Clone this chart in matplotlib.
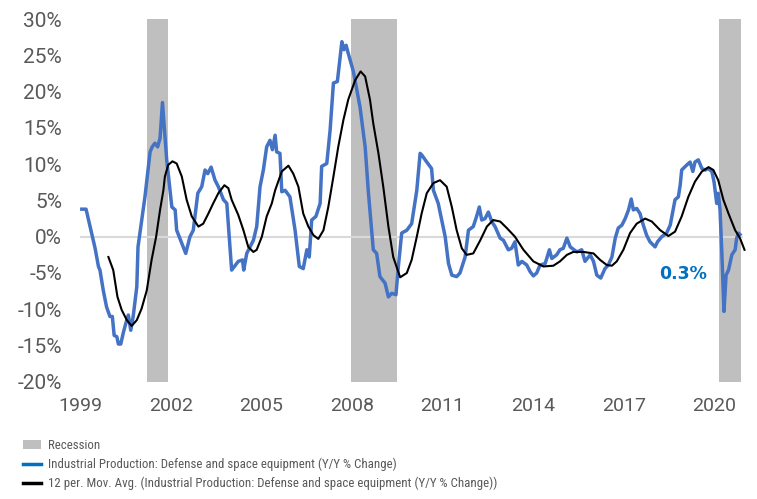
import matplotlib
matplotlib.use('Agg')
import matplotlib.pyplot as plt
from matplotlib.patches import Patch
from matplotlib.lines import Line2D

plt.rcParams['font.family'] = ['Roboto', 'DejaVu Sans']
plt.rcParams['axes.unicode_minus'] = False

# Industrial Production: Defense and space equipment, Y/Y % change
ip_years = [1999.06, 1999.20, 1999.50, 1999.61, 1999.66, 1999.77, 1999.88, 1999.99, 2000.07,
            2000.13, 2000.22, 2000.27, 2000.35, 2000.43, 2000.52, 2000.60, 2000.68, 2000.76,
            2000.88, 2000.92, 2001.15, 2001.32, 2001.39, 2001.48, 2001.57, 2001.65, 2001.73,
            2001.87, 2002.04, 2002.15, 2002.20, 2002.37, 2002.50, 2002.64, 2002.75, 2002.90,
            2003.03, 2003.14, 2003.23, 2003.34, 2003.47, 2003.58, 2003.75, 2003.86, 2004.02,
            2004.24, 2004.38, 2004.42, 2004.52, 2004.74, 2004.85, 2004.96, 2005.07, 2005.18,
            2005.29, 2005.37, 2005.46, 2005.51, 2005.62, 2005.68, 2005.79, 2005.95, 2006.12,
            2006.26, 2006.39, 2006.51, 2006.59, 2006.67, 2006.81, 2006.95, 2007.00, 2007.17,
            2007.28, 2007.39, 2007.52, 2007.67, 2007.74, 2007.81, 2007.88, 2008.05, 2008.27,
            2008.44, 2008.55, 2008.71, 2008.82, 2008.93, 2009.10, 2009.21, 2009.32, 2009.46,
            2009.54, 2009.65, 2009.82, 2009.98, 2010.15, 2010.26, 2010.31, 2010.48, 2010.64,
            2010.70, 2010.86, 2011.09, 2011.20, 2011.31, 2011.47, 2011.58, 2011.75, 2011.86,
            2012.02, 2012.13, 2012.22, 2012.30, 2012.41, 2012.52, 2012.63, 2012.74, 2012.91,
            2013.02, 2013.18, 2013.29, 2013.40, 2013.51, 2013.63, 2013.79, 2013.90, 2014.01,
            2014.12, 2014.23, 2014.40, 2014.54, 2014.62, 2014.78, 2014.89, 2015.00, 2015.12,
            2015.23, 2015.45, 2015.61, 2015.72, 2015.89, 2016.00, 2016.11, 2016.24, 2016.38,
            2016.49, 2016.61, 2016.72, 2016.82, 2016.94, 2017.05, 2017.16, 2017.25, 2017.32,
            2017.43, 2017.54, 2017.65, 2017.76, 2017.87, 2018.04, 2018.12, 2018.26, 2018.42,
            2018.54, 2018.70, 2018.81, 2018.87, 2018.92, 2019.09, 2019.20, 2019.29, 2019.36,
            2019.47, 2019.59, 2019.70, 2019.80, 2019.92, 2019.99, 2020.08, 2020.13, 2020.19,
            2020.25, 2020.32, 2020.39, 2020.47, 2020.58, 2020.69, 2020.74, 2020.80, 2020.85]
ip_values = [3.8, 3.8, -1.6, -4.1, -4.6, -7.4, -9.7, -11.0, -11.0,
             -13.6, -13.8, -14.8, -14.8, -13.3, -11.9, -10.8, -12.9, -11.0,
             -6.9, -1.4, 5.5, 11.7, 12.4, 12.9, 12.4, 13.6, 18.5,
             10.6, 4.1, 3.7, 0.9, -0.9, -2.3, 0.0, 0.9, 6.0,
             6.9, 9.2, 8.7, 9.6, 7.8, 6.9, 5.1, 4.6, -4.6,
             -3.4, -3.2, -4.6, -2.3, -0.5, 1.4, 6.9, 9.2, 12.4,
             13.3, 12.0, 14.0, 11.7, 11.5, 6.2, 6.4, 5.5, 0.9,
             -4.1, -4.4, -1.8, -2.8, 2.3, 2.8, 4.6, 9.7, 10.1,
             14.7, 21.2, 21.4, 26.9, 25.8, 26.4, 25.3, 22.8, 17.9,
             12.4, 6.0, -1.8, -2.3, -5.5, -6.4, -8.3, -7.8, -8.0,
             -4.1, 0.5, 0.9, 1.8, 6.4, 11.5, 11.3, 10.3, 9.4,
             6.4, 4.6, 0.0, -3.7, -5.3, -5.5, -5.0, -2.8, 0.9,
             1.4, 2.8, 4.1, 2.3, 2.5, 3.4, 2.1, 1.4, -0.2,
             -0.5, -1.8, -1.6, -0.7, -3.9, -3.4, -3.9, -4.8, -5.4,
             -5.0, -3.9, -3.7, -1.8, -3.0, -2.5, -1.8, -1.6, -0.2,
             -1.4, -2.1, -1.8, -3.4, -2.5, -3.4, -5.3, -5.7, -4.4,
             -3.9, -2.8, -0.2, 1.2, 1.6, 2.5, 3.7, 5.2, 3.7,
             3.9, 3.2, 1.6, 0.2, -0.7, -1.4, -0.7, 0.0, 0.5,
             1.6, 5.1, 5.5, 7.1, 9.2, 9.9, 10.3, 9.0, 10.3,
             10.6, 9.4, 9.2, 9.4, 9.0, 7.6, 4.6, 6.0, 3.7,
             -2.3, -10.3, -5.3, -4.6, -2.5, -1.8, -0.2, 0.5, 0.3]

# 12 period moving average
ma_years = [1999.94, 2000.10, 2000.24, 2000.38, 2000.55, 2000.71, 2000.88, 2001.04, 2001.21,
            2001.37, 2001.52, 2001.65, 2001.76, 2001.81, 2001.92, 2002.06, 2002.20, 2002.37,
            2002.53, 2002.70, 2002.92, 2003.08, 2003.25, 2003.41, 2003.58, 2003.78, 2003.91,
            2004.02, 2004.24, 2004.41, 2004.57, 2004.74, 2004.85, 2005.02, 2005.18, 2005.35,
            2005.46, 2005.68, 2005.90, 2006.06, 2006.23, 2006.39, 2006.56, 2006.73, 2006.89,
            2007.06, 2007.22, 2007.39, 2007.55, 2007.72, 2007.88, 2008.11, 2008.29, 2008.44,
            2008.60, 2008.71, 2008.88, 2009.04, 2009.21, 2009.37, 2009.60, 2009.82, 2009.98,
            2010.15, 2010.31, 2010.48, 2010.70, 2010.92, 2011.14, 2011.31, 2011.47, 2011.64,
            2011.80, 2012.02, 2012.25, 2012.47, 2012.68, 2012.91, 2013.13, 2013.40, 2013.68,
            2014.01, 2014.34, 2014.67, 2014.89, 2015.12, 2015.33, 2015.67, 2016.00, 2016.22,
            2016.44, 2016.61, 2016.77, 2016.99, 2017.21, 2017.43, 2017.71, 2017.93, 2018.21,
            2018.48, 2018.70, 2018.92, 2019.14, 2019.36, 2019.59, 2019.81, 2019.97, 2020.13,
            2020.30, 2020.47, 2020.69, 2020.85, 2021.00]
ma_values = [-2.8, -4.6, -8.3, -10.1, -11.5, -12.3, -11.5, -9.9, -7.4,
             -3.2, 0.0, 3.7, 6.4, 8.3, 9.9, 10.4, 10.1, 8.3,
             5.1, 2.8, 1.4, 1.8, 3.2, 4.6, 6.0, 7.1, 6.7,
             5.1, 3.0, 0.9, -1.4, -2.1, -1.8, 0.0, 2.8, 4.6,
             6.4, 9.0, 9.8, 8.7, 6.9, 3.2, 1.4, 0.2, -0.3,
             0.9, 4.1, 8.3, 12.4, 16.1, 18.9, 21.6, 22.8, 22.1,
             18.9, 15.6, 11.5, 6.9, 1.4, -2.8, -5.6, -5.0, -3.2,
             0.0, 3.2, 6.0, 7.4, 7.8, 6.9, 4.1, 0.9, -1.6,
             -2.5, -2.3, -0.5, 1.4, 2.3, 2.1, 1.2, 0.0, -1.8,
             -3.4, -4.1, -4.0, -3.4, -2.5, -2.1, -2.1, -2.3, -3.2,
             -3.9, -4.0, -3.4, -1.8, 0.5, 1.8, 2.5, 2.1, 0.9,
             0.1, 0.7, 2.8, 5.5, 7.6, 9.0, 9.6, 9.2, 7.8,
             5.1, 3.2, 0.9, -0.2, -1.8]

# recession periods (start, end)
rec_start = [2001.21, 2007.96, 2020.16]
rec_end = [2001.92, 2009.50, 2020.89]

year_ticks = [1999, 2002, 2005, 2008, 2011, 2014, 2017, 2020]
pct_ticks = [-20, -15, -10, -5, 0, 5, 10, 15, 20, 25, 30]

grey_txt = '#595959'

fig = plt.figure(figsize=(7.57, 4.99), dpi=100)
ax = fig.add_axes([0.1057, 0.235, 0.8758, 0.7265])

for s, e in zip(rec_start, rec_end):
    ax.axvspan(s, e, color='#BFBFBF', lw=0, zorder=1)

ax.axhline(0, color='#D9D9D9', lw=1.5, zorder=2)
ax.plot(ip_years, ip_values, color='#4472C4', lw=2.5, zorder=3)
ax.plot(ma_years, ma_values, color='black', lw=1.5, zorder=4, clip_on=False)

ax.text(2018.97, -5.2, '0.3%', color='#0070C0', fontsize=12.5, fontweight='bold',
        ha='center', va='center', family=['DejaVu Sans'])

ax.set_xlim(1999, 2020.95)
ax.set_ylim(-20, 30)
ax.set_xticks(year_ticks)
ax.set_xticklabels([str(y) for y in year_ticks])
ax.set_yticks(pct_ticks)
ax.set_yticklabels([f'{p}%' for p in pct_ticks])
ax.tick_params(length=0, labelcolor=grey_txt)
ax.tick_params(axis='x', pad=11, labelsize=14)
ax.tick_params(axis='y', pad=13, labelsize=15)
for sp in ax.spines.values():
    sp.set_visible(False)

handles = [Patch(facecolor='#BFBFBF', edgecolor='none'),
           Line2D([], [], color='#0070C0', lw=2.5),
           Line2D([], [], color='black', lw=2.5)]
labels = ['Recession',
          'Industrial Production: Defense and space equipment (Y/Y % Change)',
          '12 per. Mov. Avg. (Industrial Production: Defense and space equipment (Y/Y % Change))']
leg = fig.legend(handles, labels, loc='upper left', bbox_to_anchor=(23 / 757, 1 - 439 / 499),
                 frameon=False, prop={'family': ['Roboto Condensed', 'DejaVu Sans'], 'size': 9.3},
                 borderpad=0, borderaxespad=0, handlelength=1.4, handleheight=0.7,
                 handletextpad=0.55, labelspacing=0.45)
for t in leg.get_texts():
    t.set_color(grey_txt)

fig.savefig('out.png', dpi=100)
